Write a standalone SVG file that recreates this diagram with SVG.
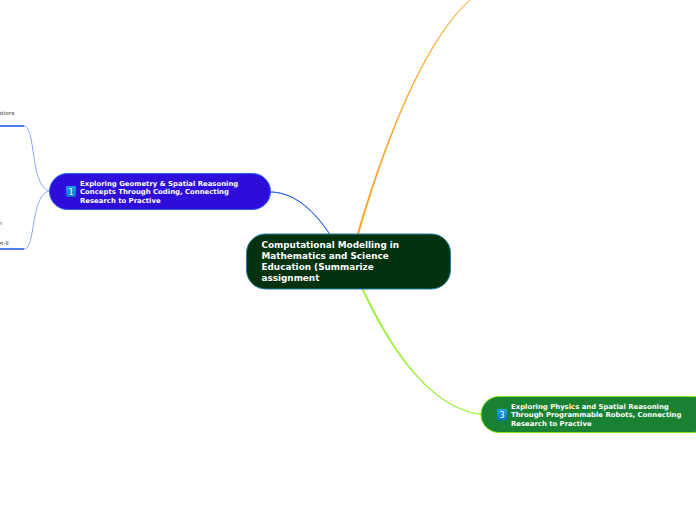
<svg xmlns="http://www.w3.org/2000/svg" width="696" height="520" viewBox="0 0 696 520">
<defs>
<linearGradient id="badge" x1="0" y1="0" x2="0" y2="1"><stop offset="0" stop-color="#1fa2ee"/><stop offset="1" stop-color="#0670c8"/></linearGradient>
</defs>
<style>
text{font-family:"DejaVu Sans",Verdana,sans-serif}
.t{font-weight:700;fill:#fff;font-size:6.9px}
.c{font-weight:700;fill:#fff;font-size:8.85px}
.s{font-size:5.4px;fill:#333}
.n{font-size:8px;fill:#fff;text-anchor:middle}
.l{fill:none}
</style>
<rect width="696" height="520" fill="#fff"/>
<g id="connectors">
<path d="M356.800 236C384.700 140 424.800 40 470 0C425.200 40 385.300 140 358.200 236Z" fill="#fb9f1c" stroke="#fb9f1c" stroke-width="0.7"/>
<path d="M270 192C295 192 315 212 330.600 235.500C315.600 212 295 192 270 192Z" fill="#2b63f0" stroke="#2b63f0" stroke-width="0.9"/>
<path d="M361.500 288C383 335 425 408.500 482 414.500C425 408 385 335 362.500 288Z" fill="#8ef01f" stroke="#8ef01f" stroke-width="0.7"/>
<path class="l" d="M49 191C30 186 36 126 24 126" stroke="#7f9ff5" stroke-width="0.9"/>
<path class="l" d="M49 191C30 196 36 249 24 249" stroke="#7f9ff5" stroke-width="0.9"/>
<path class="l" d="M0 126H24" stroke="#0f4fe6" stroke-width="1.5"/>
<path class="l" d="M0 249H24" stroke="#0f4fe6" stroke-width="1.5"/>
</g>
<g id="leaf-1"><text class="s" x="-2" y="115">ations</text></g>
<g id="leaf-2"><text class="s" x="-1.500" y="225">n</text></g>
<g id="leaf-3"><text class="s" x="-2" y="245">et-II</text></g>
<g id="node-1">
<rect x="49.500" y="173.500" width="221" height="36" rx="18" fill="#2e0ddb" stroke="#2a63ee"/>
<rect x="66" y="186" width="10" height="11" rx="1.500" fill="url(#badge)"/>
<text class="n" x="71" y="195">1</text>
<text class="t" x="80" y="186">Exploring Geometry &amp; Spatial Reasoning</text>
<text class="t" x="80" y="194">Concepts Through Coding, Connecting</text>
<text class="t" x="80" y="203">Research to Practive</text>
</g>
<g id="root">
<rect x="246.500" y="234" width="204" height="55" rx="19" fill="#03320f" stroke="#1f7fa8"/>
<text class="c" x="261.500" y="248">Computational Modelling in</text>
<text class="c" x="261.500" y="259">Mathematics and Science</text>
<text class="c" x="261.500" y="270">Education (Summarize</text>
<text class="c" x="261.500" y="281">assignment</text>
</g>
<g id="node-3">
<rect x="481" y="396.500" width="230" height="36" rx="18" fill="#188232" stroke="#7fe81f"/>
<rect x="497" y="409" width="10" height="11.500" rx="1.500" fill="url(#badge)"/>
<text class="n" x="502" y="418">3</text>
<text class="t" x="511" y="409">Exploring Physics and Spatial Reasoning</text>
<text class="t" x="511" y="417">Through Programmable Robots, Connecting</text>
<text class="t" x="511" y="426">Research to Practive</text>
</g>
</svg>
